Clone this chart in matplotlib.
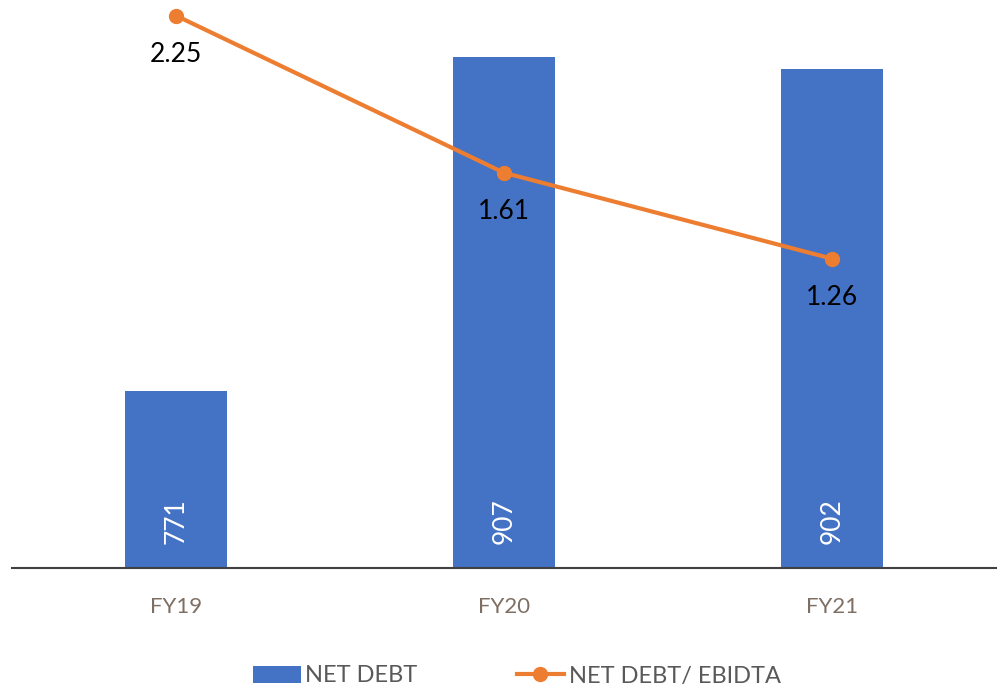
import numpy as np
import matplotlib.pyplot as plt

years = ["FY19", "FY20", "FY21"]
net_debt = [771, 907, 902]
debt_ratio = [2.25, 1.61, 1.26]

plt.rcParams['font.family'] = ['Lato', 'DejaVu Sans']

fig = plt.figure(figsize=(9.98, 6.9), dpi=100)
ax = fig.add_axes([12 / 998, 122 / 690, 984 / 998, 558 / 690])
x = np.arange(len(years))

bars = ax.bar(x, net_debt, width=0.314, color='#4472C4', label='NET DEBT', zorder=2)
ax.set_ylim(699, 926)
ax.set_xlim(-0.5, 2.5)
for xi, v in zip(x, net_debt):
    ax.annotate(str(v), (xi, 699), xytext=(0, 34), textcoords='offset points',
                rotation=90, ha='center', va='center', color='white', fontsize=19)

ax2 = ax.twinx()
ax2.set_ylim(0, 2.273)
ax2.plot(x, debt_ratio, color='#ED7D31', lw=3, marker='o', ms=10,
         label='NET DEBT/ EBIDTA', clip_on=False, zorder=3)
for xi, v in zip(x, debt_ratio):
    ax2.annotate(f"{v:.2f}", (xi, v), xytext=(0, -28), textcoords='offset points',
                 ha='center', va='center', color='black', fontsize=19)

for a in (ax, ax2):
    for s in ('top', 'right', 'left'):
        a.spines[s].set_visible(False)
    a.set_yticks([])
ax2.spines['bottom'].set_visible(False)
ax.spines['bottom'].set_color('#404040')
ax.spines['bottom'].set_linewidth(1.5)
ax.set_xticks(x)
ax.set_xticklabels(years, color='#7F6F63', fontsize=16)
ax.tick_params(axis='x', length=0, pad=21)

h1, l1 = ax.get_legend_handles_labels()
h2, l2 = ax2.get_legend_handles_labels()
fig.legend(h1 + h2, l1 + l2, loc='center', bbox_to_anchor=(0.518, 14 / 690), ncol=2,
           frameon=False, fontsize=17, labelcolor='#595959', handlelength=2.0,
           handletextpad=0.2, columnspacing=4.2)

fig.savefig('out.png', dpi=100)
